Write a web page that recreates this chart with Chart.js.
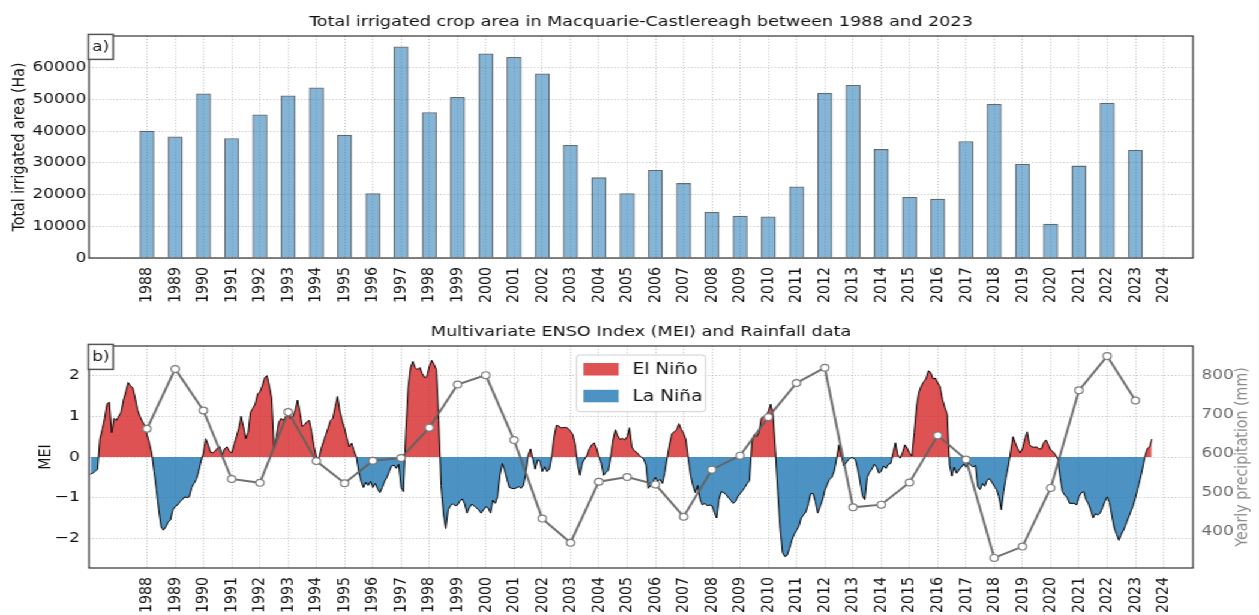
<!DOCTYPE html>
<html>
<head>
<meta charset="utf-8">
<script src="https://cdn.jsdelivr.net/npm/chart.js@4.4.1/dist/chart.umd.min.js"></script>
<style>
  html, body { margin: 0; padding: 0; background: #fff; width: 1259px; height: 615px; overflow: hidden; }
  /* the figure is laid out on a 1049px wide stage and stretched to the window width */
  #stage { position: absolute; left: 0; top: 0; width: 1049px; height: 615px; transform: scaleX(1.2002); transform-origin: 0 0; }
  #stage canvas { position: absolute; left: 0; }
  #areaChart { top: 0; }
  #ensoChart { top: 310px; }
</style>
</head>
<body>
<div id="stage">
  <canvas id="areaChart" width="1049" height="310"></canvas>
  <canvas id="ensoChart" width="1049" height="305"></canvas>
</div>
<script>
// ---- data ----
const years = [1988, 1989, 1990, 1991, 1992, 1993, 1994, 1995, 1996, 1997, 1998, 1999,
  2000, 2001, 2002, 2003, 2004, 2005, 2006, 2007, 2008, 2009, 2010, 2011,
  2012, 2013, 2014, 2015, 2016, 2017, 2018, 2019, 2020, 2021, 2022, 2023];

// total irrigated crop area (Ha)
const irrigatedArea = [40100, 38300, 51800, 37700, 45200, 51200, 53700, 38800, 20400, 66600, 45900, 50700,
  64400, 63300, 58100, 35600, 25400, 20400, 27700, 23600, 14500, 13300, 13100, 22500,
  52000, 54500, 34300, 19200, 18700, 36800, 48500, 29600, 10800, 29100, 48900, 34000];

// yearly precipitation (mm)
const rainfall = [663, 817, 710, 534, 524, 706, 580, 523, 581, 588, 666, 777,
  801, 634, 432, 370, 527, 539, 520, 437, 558, 594, 693, 781,
  820, 461, 468, 525, 646, 584, 331, 360, 511, 762, 850, 736];

// monthly Multivariate ENSO Index, starting January 1986
const meiStartYear = 1986;
const mei = [
  -0.42, -0.40, -0.35, -0.30, 0.45, 0.68, 0.95, 1.30, 1.35, 0.60, 0.95, 0.90,
  1.00, 1.10, 1.40, 1.60, 1.83, 1.75, 1.70, 1.45, 1.16, 1.00, 0.88, 0.78,
  0.55, 0.35, 0.10, -0.35, -0.80, -1.30, -1.72, -1.80, -1.72, -1.60, -1.55, -1.30,
  -1.22, -1.18, -1.10, -1.05, -0.98, -1.00, -0.98, -0.75, -0.65, -0.55, -0.35, -0.10,
  0.10, 0.45, 0.30, 0.12, 0.10, 0.15, 0.22, 0.25, 0.05, 0.20, 0.25, 0.15,
  0.10, 0.30, 0.50, 0.70, 1.00, 0.75, 0.45, 0.60, 1.10, 1.20, 1.30, 1.55,
  1.60, 1.75, 1.95, 2.00, 1.75, 1.45, 0.20, 0.50, 0.85, 0.95, 0.90, 1.00,
  1.07, 0.95, 1.00, 1.15, 1.40, 1.10, 0.75, 0.80, 0.87, 0.90, 0.62, 0.25,
  0.00, -0.05, 0.20, 0.38, 0.55, 0.72, 0.90, 0.95, 1.24, 1.49, 1.12, 0.88,
  0.70, 0.45, 0.25, 0.34, 0.15, 0.00, -0.35, -0.60, -0.75, -0.62, -0.70, -0.60,
  -0.75, -0.65, -0.78, -0.88, -0.75, -0.60, -0.50, -0.35, -0.22, -0.20, -0.28, -0.18,
  -0.75, -0.85, 0.60, 1.70, 2.20, 2.35, 2.20, 2.15, 2.20, 2.05, 1.95, 1.98,
  2.23, 2.38, 2.28, 2.15, 0.90, -0.70, -1.40, -1.76, -1.30, -1.20, -1.15, -1.20,
  -1.18, -1.08, -1.03, -1.15, -1.38, -1.25, -1.16, -1.20, -1.25, -1.30, -1.38, -1.30,
  -1.22, -1.25, -1.38, -1.06, -1.14, -0.98, -0.45, -0.16, -0.32, -0.55, -0.75, -0.77,
  -0.78, -0.76, -0.73, -0.77, -0.70, -0.40, 0.05, 0.20, -0.05, -0.30, -0.07, -0.10,
  -0.36, -0.24, -0.36, -0.30, 0.00, 0.50, 0.78, 0.76, 0.72, 0.72, 0.73, 0.70,
  0.63, 0.55, 0.30, -0.20, -0.45, -0.15, -0.05, 0.05, 0.20, 0.30, 0.35, 0.22,
  0.02, -0.15, -0.45, -0.38, -0.33, 0.00, 0.42, 0.67, 0.52, 0.43, 0.46, 0.42,
  0.50, 0.72, 0.25, 0.15, 0.12, 0.05, 0.00, -0.05, -0.20, -0.77, -0.70, -0.60,
  -0.50, -0.60, -0.55, -0.65, -0.38, -0.02, 0.32, 0.57, 0.62, 0.67, 0.82, 0.68,
  0.58, 0.42, -0.07, -0.47, -0.72, -0.88, -0.70, -1.05, -1.18, -1.14, -1.20, -1.18,
  -1.20, -1.35, -1.50, -1.05, -0.85, -0.88, -0.92, -1.00, -1.06, -1.14, -1.10, -0.98,
  -0.90, -0.83, -0.75, -0.65, -0.58, 0.35, 0.55, 0.50, 0.60, 0.95, 1.00, 1.00,
  1.12, 1.30, 1.05, 0.15, -0.85, -1.75, -2.35, -2.45, -2.42, -2.25, -2.05, -1.90,
  -1.80, -1.70, -1.50, -1.42, -1.35, -1.15, -0.90, -0.90, -1.10, -1.38, -1.22, -1.06,
  -0.82, -0.68, -0.55, -0.50, -0.35, -0.05, 0.30, 0.05, -0.22, -0.15, -0.07, -0.02,
  -0.02, -0.07, -0.30, -0.62, -0.95, -1.05, -0.50, -0.38, -0.30, -0.18, -0.25, -0.40,
  -0.35, -0.22, -0.28, -0.18, -0.16, 0.10, 0.35, 0.05, -0.03, 0.10, 0.30, 0.22,
  0.09, 0.02, 0.60, 1.25, 1.60, 1.75, 1.85, 1.92, 2.12, 2.08, 1.92, 1.94,
  1.82, 1.73, 1.42, 1.22, 1.05, -0.20, -0.47, -0.25, -0.40, -0.32, -0.25, -0.17,
  -0.25, -0.15, -0.20, -0.25, -0.20, -0.73, -0.80, -0.65, -0.72, -0.57, -0.53, -0.62,
  -0.72, -0.80, -0.98, -1.30, -0.85, -0.50, -0.22, 0.15, 0.50, 0.34, 0.20, 0.10,
  0.20, 0.45, 0.62, 0.30, 0.25, 0.24, 0.25, 0.20, 0.20, 0.35, 0.42, 0.30,
  0.17, 0.13, 0.06, -0.05, -0.50, -0.85, -0.94, -1.00, -1.14, -1.14, -1.14, -1.18,
  -0.98, -0.88, -0.85, -1.05, -1.15, -1.30, -1.50, -1.39, -1.43, -1.38, -1.25, -1.10,
  -0.98, -1.12, -1.45, -1.75, -1.90, -2.05, -1.90, -1.80, -1.65, -1.50, -1.35, -1.20,
  -1.00, -0.78, -0.55, -0.30, 0.00, 0.20, 0.25, 0.44
];

// axis ticks
const yearTicks = [1988, 1989, 1990, 1991, 1992, 1993, 1994, 1995, 1996, 1997, 1998, 1999,
  2000, 2001, 2002, 2003, 2004, 2005, 2006, 2007, 2008, 2009, 2010, 2011,
  2012, 2013, 2014, 2015, 2016, 2017, 2018, 2019, 2020, 2021, 2022, 2023, 2024];
const areaTicks = [0, 10000, 20000, 30000, 40000, 50000, 60000];
const meiTicks = [-2, -1, 0, 1, 2];
const rainTicks = [400, 500, 600, 700, 800];

const legendLabels = ['El Niño', 'La Niña'];

// ---- styling ----
const FONT = '"DejaVu Sans", "Liberation Sans", sans-serif';
const TICK_FONT = { family: FONT, size: 14.2 };
const TITLE_FONT = { family: FONT, size: 14.7, weight: 'normal' };
const TITLE_PAD = { top: 13.6, bottom: 4.76 };
const EL_NINO = 'rgba(214, 39, 40, 0.8)';
const LA_NINA = 'rgba(31, 119, 180, 0.8)';
const GRID = { color: '#b4b4b4', lineWidth: 0.8, drawTicks: false, offset: false };
const GRID_DASH = [1.1, 1.8];
const X_MIN = 1985.946, X_MAX = 2025.04;

const fixedTicks = values => scale => { scale.ticks = values.map(v => ({ value: v })); };
const fmtSigned = v => (v < 0 ? '\u2212' + Math.abs(v) : String(v));

// frame around the plot area plus the panel tag in the upper-left corner
const panelFrame = {
  id: 'panelFrame',
  afterDatasetsDraw(chart, args, opts) {
    const { ctx, chartArea: a } = chart;
    ctx.save();
    ctx.setLineDash([]);
    ctx.strokeStyle = '#1e1e1e';
    ctx.lineWidth = 1.1;
    ctx.strokeRect(a.left, a.top, a.right - a.left, a.bottom - a.top);
    if (opts.tag) {
      const w = 20.8, h = 25, x = a.left - 0.6, y = a.top - 1.6;
      ctx.fillStyle = '#fff';
      ctx.fillRect(x, y, w, h);
      ctx.strokeStyle = '#555';
      ctx.lineWidth = 1.5;
      ctx.strokeRect(x, y, w, h);
      ctx.fillStyle = '#111';
      ctx.font = '14.2px ' + FONT;
      ctx.textAlign = 'center';
      ctx.textBaseline = 'middle';
      ctx.fillText(opts.tag, x + w / 2, y + h / 2 + 0.5);
    }
    ctx.restore();
  }
};

// right-hand axis title, written bottom-to-top beside the secondary axis
const sideTitle = {
  id: 'sideTitle',
  afterDraw(chart, args, opts) {
    if (!opts.text) return;
    const scale = chart.scales[opts.axis];
    const { ctx } = chart;
    ctx.save();
    ctx.translate(scale.right - opts.offset, (scale.top + scale.bottom) / 2);
    ctx.rotate(-Math.PI / 2);
    ctx.font = '14.2px ' + FONT;
    ctx.fillStyle = opts.color;
    ctx.textAlign = 'center';
    ctx.textBaseline = 'middle';
    ctx.fillText(opts.text, 0, 0);
    ctx.restore();
  }
};

// legend box at the upper centre of the plot area
const phaseLegend = {
  id: 'phaseLegend',
  afterDatasetsDraw(chart, args, opts) {
    if (!opts.labels) return;
    const { ctx, chartArea: a } = chart;
    const w = 107.4, h = 56.7;
    const x = (a.left + a.right) / 2 - w / 2, y = a.top + 9;
    ctx.save();
    ctx.setLineDash([]);
    ctx.fillStyle = 'rgba(255,255,255,0.8)';
    ctx.strokeStyle = '#d0d0d0';
    ctx.lineWidth = 1;
    ctx.beginPath();
    if (ctx.roundRect) ctx.roundRect(x, y, w, h, 3); else ctx.rect(x, y, w, h);
    ctx.fill();
    ctx.stroke();
    ctx.font = '15.5px ' + FONT;
    ctx.textBaseline = 'middle';
    ctx.textAlign = 'left';
    opts.labels.forEach((label, i) => {
      const py = y + 8 + i * 26.8;
      ctx.fillStyle = opts.colors[i];
      ctx.fillRect(x + 5.8, py, 29.2, 12.5);
      ctx.fillStyle = '#111';
      ctx.fillText(label, x + 46.5, py + 6.8);
    });
    ctx.restore();
  }
};

function yearAxis(height) {
  return {
    type: 'linear',
    position: 'bottom',
    offset: false,
    min: X_MIN,
    max: X_MAX,
    afterBuildTicks: fixedTicks(yearTicks),
    afterFit: s => { s.height = height; },
    ticks: {
      autoSkip: false, maxRotation: 90, minRotation: 90, padding: 9,
      font: TICK_FONT, color: '#111', callback: v => String(v)
    },
    grid: GRID,
    border: { display: false, dash: GRID_DASH }
  };
}

const commonOptions = {
  responsive: false,
  animation: false,
  events: []
};

// ---- panel a: irrigated area bars ----
new Chart(document.getElementById('areaChart'), {
  type: 'bar',
  data: {
    datasets: [{
      label: 'Total irrigated area',
      data: years.map((yr, i) => ({ x: yr, y: irrigatedArea[i] })),
      backgroundColor: 'rgba(31, 119, 180, 0.55)',
      borderColor: 'rgba(35, 50, 65, 0.72)',
      borderWidth: 1.3,
      categoryPercentage: 1,
      barPercentage: 0.53
    }]
  },
  options: Object.assign({}, commonOptions, {
    layout: { padding: { left: 0, right: 55, top: 0, bottom: 0 } },
    scales: {
      x: yearAxis(52),
      y: {
        type: 'linear',
        position: 'left',
        min: 0,
        max: 69930,
        afterBuildTicks: fixedTicks(areaTicks),
        afterFit: s => { s.width = 74.15; },
        ticks: { font: TICK_FONT, color: '#111', padding: 2, callback: v => String(v) },
        grid: GRID,
        border: { display: false, dash: GRID_DASH },
        title: {
          display: true, text: 'Total irrigated area (Ha)', color: '#111',
          font: TICK_FONT, padding: { top: 7.4, bottom: 0 }
        }
      }
    },
    plugins: {
      legend: { display: false },
      tooltip: { enabled: false },
      title: {
        display: true, fullSize: false,
        text: 'Total irrigated crop area in Macquarie-Castlereagh between 1988 and 2023',
        color: '#111', font: TITLE_FONT, padding: TITLE_PAD
      },
      panelFrame: { tag: 'a)' }
    }
  }),
  plugins: [panelFrame]
});

// ---- panel b: MEI and rainfall ----
new Chart(document.getElementById('ensoChart'), {
  type: 'line',
  data: {
    datasets: [
      {
        label: 'Yearly precipitation',
        yAxisID: 'y2',
        order: 0,
        data: years.map((yr, i) => ({ x: yr, y: rainfall[i] })),
        borderColor: 'rgba(96, 96, 96, 0.9)',
        borderWidth: 2,
        pointRadius: 3.4,
        pointBorderWidth: 1.2,
        pointBorderColor: '#7c7c7c',
        pointBackgroundColor: '#ffffff',
        fill: false,
        tension: 0
      },
      {
        label: 'MEI',
        yAxisID: 'y',
        order: 1,
        data: mei.map((v, i) => ({ x: meiStartYear + i / 12, y: v })),
        borderColor: '#000',
        borderWidth: 1,
        pointRadius: 0,
        tension: 0,
        fill: { target: { value: 0 }, above: EL_NINO, below: LA_NINA }
      }
    ]
  },
  options: Object.assign({}, commonOptions, {
    layout: { padding: 0 },
    scales: {
      x: yearAxis(47),
      y: {
        type: 'linear',
        position: 'left',
        min: -2.73,
        max: 2.73,
        afterBuildTicks: fixedTicks(meiTicks),
        afterFit: s => { s.width = 74.15; },
        ticks: { font: TICK_FONT, color: '#111', padding: 7.5, callback: fmtSigned },
        grid: GRID,
        border: { display: false, dash: GRID_DASH },
        title: {
          display: true, text: 'MEI', color: '#111',
          font: TICK_FONT, padding: { top: 30.2, bottom: 0 }
        }
      },
      y2: {
        type: 'linear',
        position: 'right',
        min: 305,
        max: 876,
        afterBuildTicks: fixedTicks(rainTicks),
        afterFit: s => { s.width = 55; },
        ticks: { font: TICK_FONT, color: '#6a6a6a', padding: 7, callback: v => String(v) },
        grid: { drawOnChartArea: false, drawTicks: false },
        border: { display: false }
      }
    },
    plugins: {
      legend: { display: false },
      tooltip: { enabled: false },
      title: {
        display: true, fullSize: false,
        text: 'Multivariate ENSO Index (MEI) and Rainfall data',
        color: '#111', font: TITLE_FONT, padding: TITLE_PAD
      },
      panelFrame: { tag: 'b)' },
      phaseLegend: { labels: legendLabels, colors: [EL_NINO, LA_NINA] },
      sideTitle: { axis: 'y2', text: 'Yearly precipitation (mm)', color: '#8c8c8c', offset: 13.8 }
    }
  }),
  plugins: [panelFrame, phaseLegend, sideTitle]
});
</script>
</body>
</html>
